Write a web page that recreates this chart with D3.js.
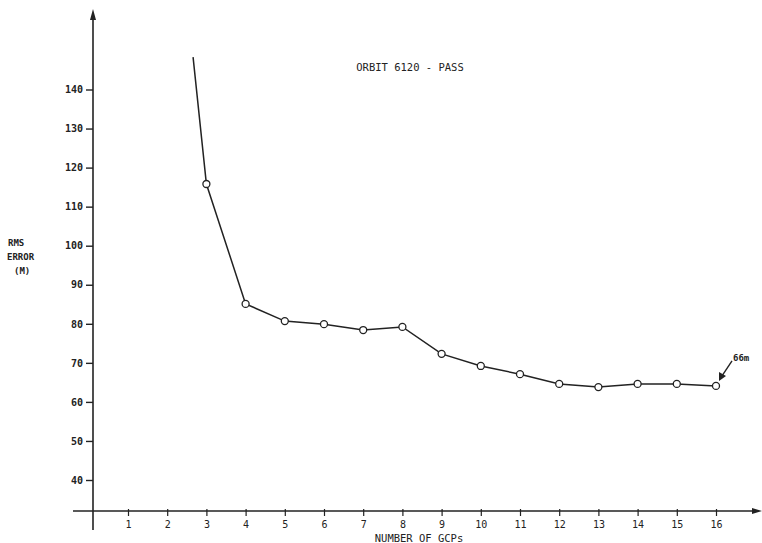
<!DOCTYPE html>
<html>
<head>
<meta charset="utf-8">
<script src="https://cdn.jsdelivr.net/npm/d3@7"></script>
<style>
  body { margin: 0; background: #fff; }
  text { fill: #222; }
</style>
</head>
<body>
<svg class="visual" width="762" height="543"></svg>
<script>
const svg = d3.select(".visual");

// Data
const gcps = [3, 4, 5, 6, 7, 8, 9, 10, 11, 12, 13, 14, 15, 16];
const rmsError = [115.8, 85.1, 80.7, 79.9, 78.4, 79.2, 72.3, 69.2, 67.1, 64.6, 63.8, 64.6, 64.6, 64.1];
// line leaves the top of the plot before the first marker
const leadIn = {x: 2.66, y: 148.3};
const xTicks = d3.range(1, 17);
const yTicks = [40, 50, 60, 70, 80, 90, 100, 110, 120, 130, 140];

const ink = "#222";
const mono = "'DejaVu Sans Mono', 'Liberation Mono', monospace";

// Scales
const x = d3.scaleLinear().domain([0, 16]).range([88.8, 716]);
const y = d3.scaleLinear().domain([40, 140]).range([480, 89.5]);

const axisY = 511;   // pixel row of the x axis
const axisX = 93;    // pixel column of the y axis

// x axis line with arrow
svg.append("line")
  .attr("x1", 73).attr("x2", 758)
  .attr("y1", axisY).attr("y2", axisY)
  .attr("stroke", ink).attr("stroke-width", 1.6);
svg.append("path")
  .attr("d", `M762,${axisY} L752,${axisY - 3} L752,${axisY + 3} Z`)
  .attr("fill", ink);

// y axis line with arrow
svg.append("line")
  .attr("x1", axisX).attr("x2", axisX)
  .attr("y1", 18).attr("y2", 530)
  .attr("stroke", ink).attr("stroke-width", 1.6);
svg.append("path")
  .attr("d", `M${axisX},9 L${axisX - 3},20 L${axisX + 3},20 Z`)
  .attr("fill", ink);

// x ticks
const gx = svg.append("g")
  .attr("transform", `translate(0,${axisY})`)
  .call(d3.axisBottom(x).tickValues(xTicks).tickSize(5).tickPadding(5).tickFormat(d3.format("d")));
gx.select(".domain").remove();
gx.selectAll(".tick line").attr("stroke", ink).attr("stroke-width", 1.2).attr("y1", -2);
gx.selectAll(".tick text")
  .style("font-family", mono).style("font-size", "10px").attr("fill", ink);

// y ticks
const gy = svg.append("g")
  .attr("transform", `translate(${axisX},0)`)
  .call(d3.axisLeft(y).tickValues(yTicks).tickSize(7).tickPadding(3));
gy.select(".domain").remove();
gy.selectAll(".tick line").attr("stroke", ink).attr("stroke-width", 1.4);
gy.selectAll(".tick text")
  .style("font-family", mono).style("font-size", "10px").style("font-weight", "bold").attr("fill", ink);

// Data line
const pts = [leadIn].concat(gcps.map((g, i) => ({x: g, y: rmsError[i]})));
const line = d3.line().x(d => x(d.x)).y(d => y(d.y));
svg.append("path")
  .datum(pts)
  .attr("d", line)
  .attr("fill", "none")
  .attr("stroke", ink)
  .attr("stroke-width", 1.5);

// Open circle markers
svg.selectAll("circle.pt")
  .data(pts.slice(1))
  .join("circle")
  .attr("class", "pt")
  .attr("cx", d => x(d.x))
  .attr("cy", d => y(d.y))
  .attr("r", 3.5)
  .attr("fill", "#fff")
  .attr("stroke", ink)
  .attr("stroke-width", 1.3);

// Title
svg.append("text")
  .attr("x", 410).attr("y", 71)
  .attr("text-anchor", "middle")
  .style("font-family", mono).style("font-size", "10.5px")
  .text("ORBIT 6120 - PASS");

// Y label
const ylab = svg.append("text")
  .style("font-family", mono).style("font-size", "9px").style("font-weight", "bold");
ylab.append("tspan").attr("x", 8).attr("y", 246).text("RMS");
ylab.append("tspan").attr("x", 7).attr("y", 260).text("ERROR");
ylab.append("tspan").attr("x", 14).attr("y", 274).text("(M)");

// X label
svg.append("text")
  .attr("x", 419).attr("y", 542)
  .attr("text-anchor", "middle")
  .style("font-family", mono).style("font-size", "10.5px")
  .text("NUMBER OF GCPs");

// 66m annotation with arrow pointing at the last marker
const last = {x: x(gcps[gcps.length - 1]), y: y(rmsError[rmsError.length - 1])};
svg.append("line")
  .attr("x1", last.x + 16).attr("y1", last.y - 25)
  .attr("x2", last.x + 6).attr("y2", last.y - 10)
  .attr("stroke", ink).attr("stroke-width", 1.4);
svg.append("path")
  .attr("d", `M${last.x + 3},${last.y - 5} L${last.x + 3},${last.y - 14} L${last.x + 10},${last.y - 10} Z`)
  .attr("fill", ink);
svg.append("text")
  .attr("x", last.x + 17).attr("y", last.y - 25)
  .style("font-family", mono).style("font-size", "9px").style("font-weight", "bold")
  .text("66m");
</script>
</body>
</html>
